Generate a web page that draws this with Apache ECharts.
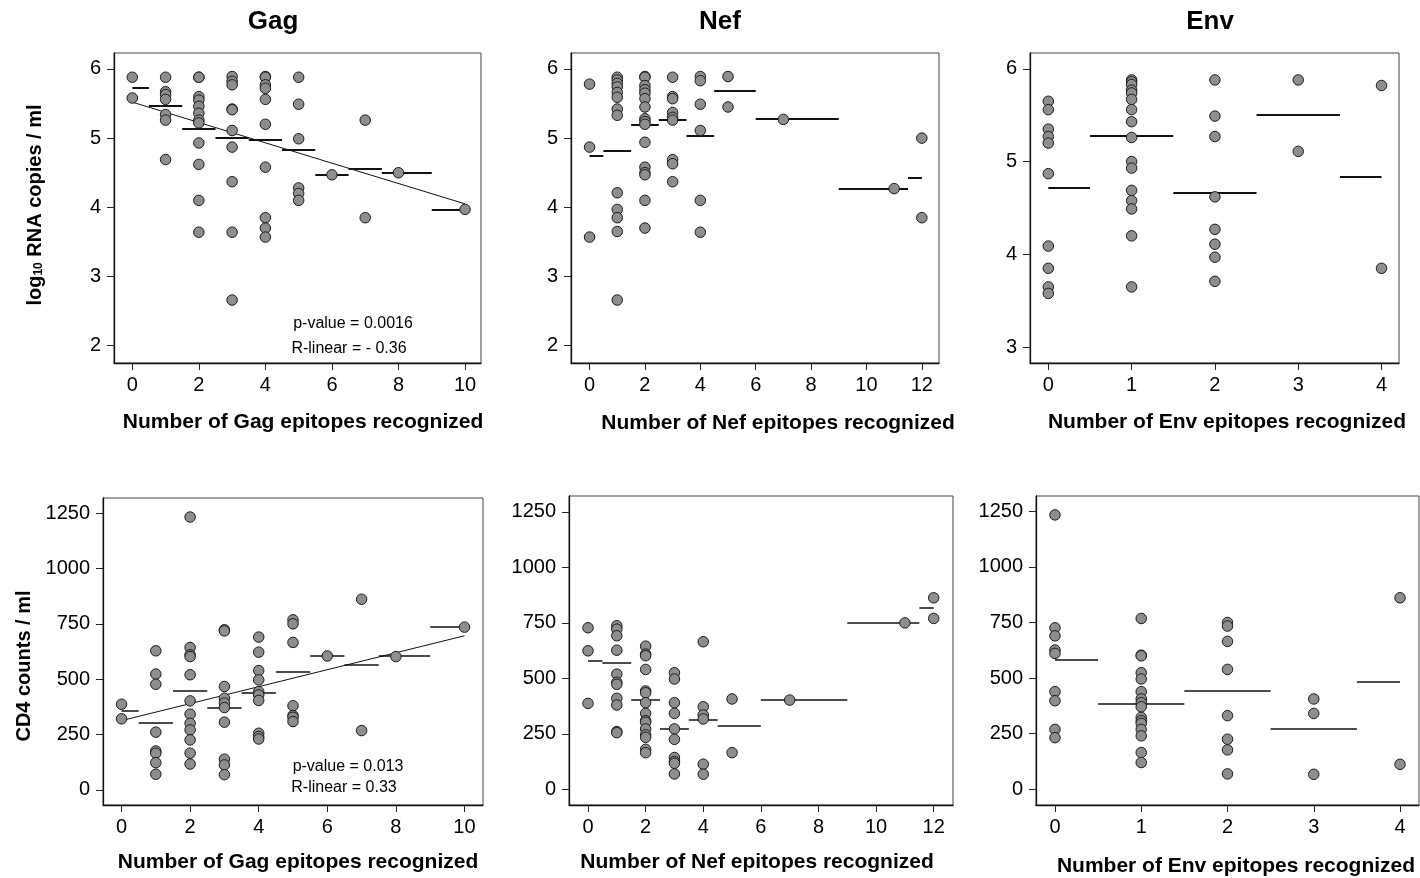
<!DOCTYPE html>
<html>
<head>
<meta charset="utf-8">
<script src="https://cdn.jsdelivr.net/npm/echarts@6/dist/echarts.min.js"></script>
<style>
  html, body { margin: 0; padding: 0; background: #ffffff; }
  #chart { width: 1420px; height: 878px; }
</style>
</head>
<body>
<div id="chart"></div>
<script>
// Number of epitopes recognized (categories present for each protein)
const gagEpitopes = [0, 1, 2, 3, 4, 5, 6, 7, 8, 10];
const nefEpitopes = [0, 1, 2, 3, 4, 5, 7, 11, 12];
const envEpitopes = [0, 1, 2, 3, 4];

// log10 RNA copies / ml, one list per epitope count
const gagRna = [
  [5.88, 5.58],
  [5.88, 5.67, 5.63, 5.56, 5.34, 5.26, 4.69],
  [5.88, 5.88, 5.60, 5.55, 5.46, 5.36, 5.26, 5.22, 4.93, 4.62, 4.10, 3.64],
  [5.89, 5.82, 5.77, 5.42, 5.41, 5.11, 4.87, 4.37, 3.64, 2.66],
  [5.89, 5.88, 5.77, 5.72, 5.56, 5.20, 4.58, 3.85, 3.70, 3.57],
  [5.88, 5.49, 4.99, 4.28, 4.20, 4.10],
  [4.47],
  [5.26, 3.85],
  [4.50],
  [3.97]
];
const gagRnaMeans = [5.73, 5.47, 5.13, 5.00, 4.98, 4.83, 4.47, 4.56, 4.50, 3.97];
const gagRnaFit = [5.52, 4.05];

const nefRna = [
  [5.78, 4.87, 3.57],
  [5.88, 5.84, 5.79, 5.74, 5.66, 5.59, 5.42, 5.33, 4.21, 3.97, 3.85, 3.65, 2.66],
  [5.89, 5.88, 5.76, 5.70, 5.65, 5.57, 5.45, 5.28, 5.24, 5.20, 4.94, 4.58, 4.50, 4.47, 4.10, 3.70],
  [5.88, 5.60, 5.57, 5.37, 5.30, 5.26, 4.69, 4.63, 4.37],
  [5.89, 5.83, 5.49, 5.11, 4.10, 3.64],
  [5.89, 5.45],
  [5.27],
  [4.27],
  [5.00, 3.85]
];
const nefRnaMeans = [4.75, 4.82, 5.19, 5.26, 5.03, 5.68, 5.28, 4.27, 4.43];

const envRna = [
  [5.65, 5.56, 5.35, 5.27, 5.20, 4.87, 4.09, 3.85, 3.65, 3.58],
  [5.88, 5.86, 5.83, 5.77, 5.74, 5.67, 5.56, 5.43, 5.26, 5.00, 4.93, 4.69, 4.58, 4.49, 4.20, 3.65],
  [5.88, 5.49, 5.27, 4.62, 4.27, 4.11, 3.97, 3.71],
  [5.88, 5.11],
  [5.82, 3.85]
];
const envRnaMeans = [4.72, 5.28, 4.66, 5.50, 4.84];

// CD4 counts / ml, one list per epitope count
const gagCd4 = [
  [387, 321],
  [628, 523, 477, 261, 176, 166, 123, 71],
  [1232, 643, 610, 602, 520, 402, 342, 301, 271, 226, 166, 117],
  [723, 718, 467, 414, 392, 372, 306, 139, 113, 69],
  [690, 622, 539, 497, 444, 429, 404, 256, 241, 230],
  [768, 750, 666, 380, 336, 328, 309],
  [605],
  [861, 268],
  [602],
  [735]
];
const gagCd4Means = [357, 304, 447, 372, 440, 535, 605, 565, 605, 736];
const gagCd4Fit = [313, 696];

const nefCd4 = [
  [728, 624, 387],
  [737, 722, 692, 627, 519, 482, 473, 410, 380, 260, 255],
  [645, 609, 602, 540, 443, 435, 390, 342, 309, 302, 272, 245, 234, 180, 165],
  [525, 497, 390, 342, 272, 225, 143, 125, 117, 69],
  [665, 372, 335, 317, 113, 68],
  [407, 165],
  [402],
  [750],
  [863, 770]
];
const nefCd4Means = [581, 569, 404, 272, 312, 285, 404, 752, 819];

const envCd4 = [
  [1234, 726, 690, 626, 611, 439, 398, 269, 232],
  [768, 603, 600, 524, 496, 439, 406, 389, 371, 323, 308, 296, 269, 240, 165, 120],
  [750, 734, 665, 539, 331, 225, 177, 69],
  [406, 341, 67],
  [861, 112]
];
const envCd4Means = [584, 385, 442, 271, 485];

// Tick labels
const gagTicks = [0, 2, 4, 6, 8, 10];
const nefTicks = [0, 2, 4, 6, 8, 10, 12];
const envTicks = [0, 1, 2, 3, 4];
const rnaTicks = [2, 3, 4, 5, 6];
const envRnaTicks = [3, 4, 5, 6];
const cd4Ticks = [0, 250, 500, 750, 1000, 1250];

const FONT = "'Liberation Sans', Arial, Helvetica, sans-serif";

const panels = [
  { cats: gagEpitopes, groups: gagRna, means: gagRnaMeans, fit: gagRnaFit,
    grid: { left: 114, top: 53, width: 367, height: 310 },
    x: [-0.55, 10.48], xTicks: gagTicks, y: [1.75, 6.23], yTicks: rnaTicks, meanWidth: 2 },
  { cats: nefEpitopes, groups: nefRna, means: nefRnaMeans, fit: null,
    grid: { left: 571, top: 53, width: 368, height: 310 },
    x: [-0.67, 12.62], xTicks: nefTicks, y: [1.75, 6.23], yTicks: rnaTicks, meanWidth: 2 },
  { cats: envEpitopes, groups: envRna, means: envRnaMeans, fit: null,
    grid: { left: 1030, top: 53, width: 369, height: 310 },
    x: [-0.22, 4.21], xTicks: envTicks, y: [2.83, 6.17], yTicks: envRnaTicks, meanWidth: 2 },
  { cats: gagEpitopes, groups: gagCd4, means: gagCd4Means, fit: gagCd4Fit,
    grid: { left: 103, top: 498, width: 380, height: 307 },
    x: [-0.54, 10.54], xTicks: gagTicks, y: [-68, 1318], yTicks: cd4Ticks, meanWidth: 1.5 },
  { cats: nefEpitopes, groups: nefCd4, means: nefCd4Means, fit: null,
    grid: { left: 569, top: 496, width: 384, height: 309 },
    x: [-0.66, 12.67], xTicks: nefTicks, y: [-71, 1322], yTicks: cd4Ticks, meanWidth: 1.5 },
  { cats: envEpitopes, groups: envCd4, means: envCd4Means, fit: null,
    grid: { left: 1036, top: 496, width: 383, height: 309 },
    x: [-0.22, 4.22], xTicks: envTicks, y: [-71, 1319], yTicks: cd4Ticks, meanWidth: 1.5 }
];

const grids = [], xAxes = [], yAxes = [], series = [];
const plain = function (v) { return String(v); };

panels.forEach(function (p, i) {
  grids.push(Object.assign({
    show: true, borderColor: '#444', borderWidth: 1, backgroundColor: '#fff',
    outerBoundsMode: 'none', containLabel: false
  }, p.grid));

  const tickStyle = { show: true, inside: false, length: 7, lineStyle: { color: '#222', width: 1 } };
  xAxes.push({
    type: 'value', gridIndex: i, min: p.x[0], max: p.x[1],
    axisLine: { show: true, onZero: false, lineStyle: { color: '#111', width: 1.3 } },
    axisTick: Object.assign({ customValues: p.xTicks }, tickStyle),
    axisLabel: { customValues: p.xTicks, formatter: plain, color: '#000', fontSize: 20, fontFamily: FONT, margin: 12 },
    splitLine: { show: false }
  });
  yAxes.push({
    type: 'value', gridIndex: i, min: p.y[0], max: p.y[1],
    axisLine: { show: true, onZero: false, lineStyle: { color: '#111', width: 1.3 } },
    axisTick: Object.assign({ customValues: p.yTicks }, tickStyle),
    axisLabel: { customValues: p.yTicks, formatter: plain, color: '#000', fontSize: 20, fontFamily: FONT, margin: 13 },
    splitLine: { show: false }
  });

  // Mean of each group: a step spanning halfway to the neighbouring categories
  const last = p.cats.length - 1;
  const meanSegments = p.cats.map(function (c, k) {
    const x0 = k === 0 ? c : (p.cats[k - 1] + c) / 2;
    const x1 = k === last ? c : (c + p.cats[k + 1]) / 2;
    return { coords: [[x0, p.means[k]], [x1, p.means[k]]] };
  });
  series.push({
    type: 'lines', coordinateSystem: 'cartesian2d', xAxisIndex: i, yAxisIndex: i,
    polyline: false, silent: true, z: 2,
    lineStyle: { color: '#111', width: p.meanWidth, opacity: 1 },
    data: meanSegments
  });

  if (p.fit) {
    series.push({
      type: 'lines', coordinateSystem: 'cartesian2d', xAxisIndex: i, yAxisIndex: i,
      polyline: false, silent: true, z: 2,
      lineStyle: { color: '#111', width: 1, opacity: 1 },
      data: [{ coords: [[p.cats[0], p.fit[0]], [p.cats[last], p.fit[1]]] }]
    });
  }

  const pts = [];
  p.groups.forEach(function (g, k) {
    g.forEach(function (v) { pts.push([p.cats[k], v]); });
  });
  series.push({
    type: 'scatter', xAxisIndex: i, yAxisIndex: i, z: 3,
    symbol: 'circle', symbolSize: 10.5,
    itemStyle: { color: '#8e8e8e', borderColor: '#1a1a1a', borderWidth: 1, opacity: 1 },
    data: pts
  });
});

function txt(x, y, text, size, bold, extra) {
  return Object.assign({
    type: 'text', x: x, y: y, silent: true,
    style: {
      text: text, fill: '#000', align: 'center', verticalAlign: 'middle',
      font: (bold ? 'bold ' : '') + size + 'px ' + FONT
    }
  }, extra || {});
}

const graphics = [
  txt(273, 22, 'Gag', 26, true),
  txt(720, 22, 'Nef', 26, true),
  txt(1210, 22, 'Env', 26, true),
  txt(303, 422, 'Number of Gag epitopes recognized', 21, true),
  txt(778, 423, 'Number of Nef epitopes recognized', 21, true),
  txt(1227, 422, 'Number of Env epitopes recognized', 21, true),
  txt(298, 862, 'Number of Gag epitopes recognized', 21, true),
  txt(757, 862, 'Number of Nef epitopes recognized', 21, true),
  txt(1236, 866, 'Number of Env epitopes recognized', 21, true),
  txt(353, 324, 'p-value = 0.0016', 16, false),
  txt(349, 349, 'R-linear = - 0.36', 16, false),
  txt(348, 767, 'p-value = 0.013', 16, false),
  txt(344, 788, 'R-linear = 0.33', 16, false),
  {
    type: 'text', x: 33, y: 205, rotation: Math.PI / 2, silent: true,
    style: {
      text: '{m|log}{s|10}{m| RNA copies / ml}',
      align: 'center', verticalAlign: 'middle', fill: '#000',
      rich: {
        m: { font: 'bold 20px ' + FONT, fill: '#000', lineHeight: 24, verticalAlign: 'bottom' },
        s: { font: 'bold 12px ' + FONT, fill: '#000', lineHeight: 14, verticalAlign: 'bottom' }
      }
    }
  },
  txt(24, 666, 'CD4 counts / ml', 20, true, { rotation: Math.PI / 2 })
];

const chart = echarts.init(document.getElementById('chart'), null, { renderer: 'canvas' });
chart.setOption({
  animation: false,
  backgroundColor: '#ffffff',
  grid: grids,
  xAxis: xAxes,
  yAxis: yAxes,
  series: series,
  graphic: graphics
});
</script>
</body>
</html>
